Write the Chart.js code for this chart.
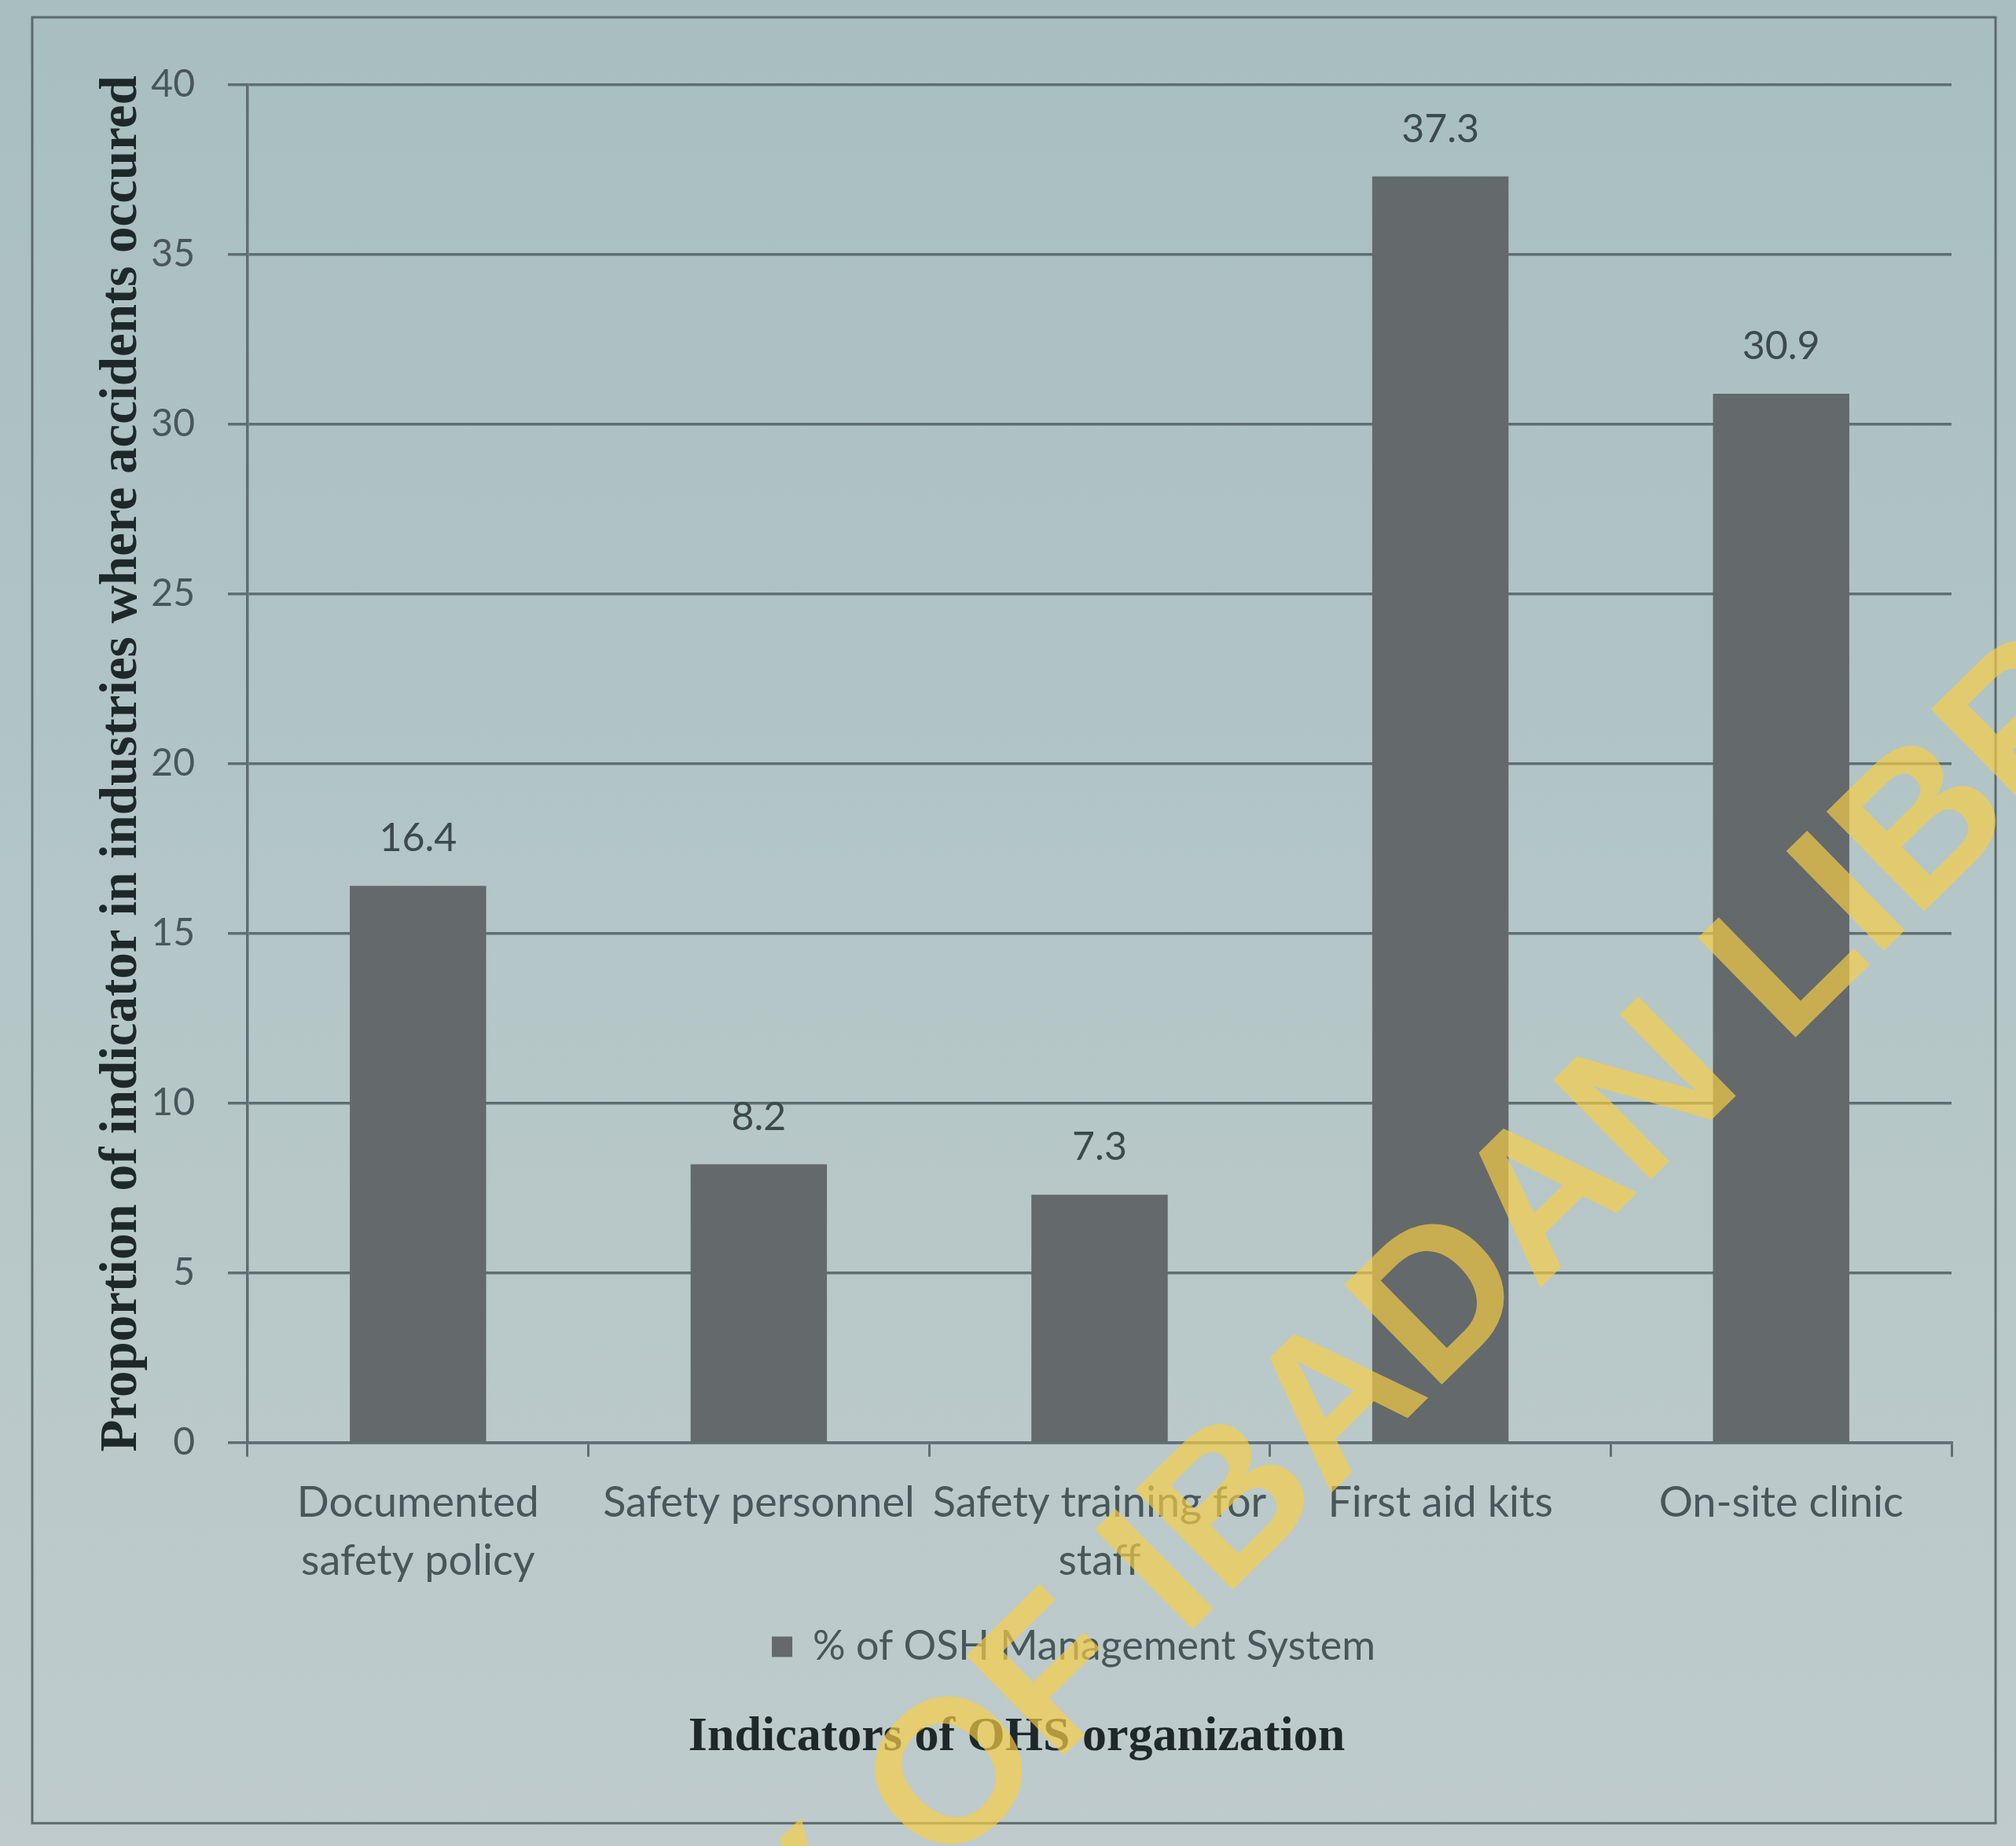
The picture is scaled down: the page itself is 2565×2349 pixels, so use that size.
<!DOCTYPE html>
<html>
<head>
<meta charset="utf-8">
<script src="https://cdn.jsdelivr.net/npm/chart.js@4/dist/chart.umd.min.js"></script>
<style>
  html, body { margin: 0; padding: 0; background: #b3c5c6; }
  #wrap { width: 2565px; height: 2349px; position: relative; }
  canvas { display: block; }
</style>
</head>
<body>
<div id="wrap"><canvas id="chart" width="2565" height="2349"></canvas></div>
<script>
// Indicators of OHS organization in industries where accidents occurred
const categories = [
  ["Documented", "safety policy"],
  ["Safety personnel"],
  ["Safety training for", "staff"],
  ["First aid kits"],
  ["On-site clinic"]
];
const seriesName = "% of OSH Management System";
const oshValues = [16.4, 8.2, 7.3, 37.3, 30.9];
const yTicks = [0, 5, 10, 15, 20, 25, 30, 35, 40];
const yTitle = "Proportion of indicator in industries where accidents occured";
const xTitle = "Indicators of OHS organization";
const watermarkText = "UNIVERSITY OF IBADAN LIBRARY";

const INK = "#485759";
const GRID = "#5f6f71";
const BAR = "#64696b";

// paper-coloured background
const paperPlugin = {
  id: "paper",
  beforeDraw(chart) {
    const { ctx, width, height } = chart;
    const g = ctx.createLinearGradient(0, 0, 0, height);
    g.addColorStop(0, "#a8bebf");
    g.addColorStop(0.5, "#b4c6c7");
    g.addColorStop(1, "#bfcbcc");
    ctx.save();
    ctx.fillStyle = g;
    ctx.fillRect(0, 0, width, height);
    ctx.restore();
  }
};

// nudge the legend and bottom title sideways after layout
const placeBlocks = {
  id: "placeBlocks",
  afterLayout(chart) {
    const lg = chart.legend;
    if (lg) {
      lg.left -= 33; lg.right -= 33;
      if (lg.adjustHitBoxes) lg.adjustHitBoxes();
    }
    const tb = chart.titleBlock;
    if (tb) { tb.left += 22; tb.right += 22; }
  }
};

// value labels above each bar
const valueLabels = {
  id: "valueLabels",
  afterDatasetsDraw(chart) {
    const { ctx } = chart;
    const meta = chart.getDatasetMeta(0);
    ctx.save();
    ctx.font = "50px Lato";
    ctx.fillStyle = "#3d4a4c";
    ctx.textAlign = "center";
    ctx.textBaseline = "middle";
    meta.data.forEach((bar, i) => {
      ctx.fillText(String(chart.data.datasets[0].data[i]), bar.x, bar.y - 60);
    });
    ctx.restore();
  }
};

// outer frame and diagonal library stamp
const framePlugin = {
  id: "frame",
  afterDraw(chart) {
    const { ctx } = chart;
    ctx.save();
    ctx.strokeStyle = "#5c6a6b";
    ctx.lineWidth = 3;
    ctx.strokeRect(41, 22, 2498, 2298);

    const size = 258;
    ctx.font = "bold " + size + "px 'Liberation Sans'";
    const idx = watermarkText.indexOf("OF");
    const pre = ctx.measureText(watermarkText.slice(0, idx)).width;
    const oW = ctx.measureText("O").width;
    ctx.translate(1205, 2250);
    ctx.rotate(Math.atan2(-1209, 1232));
    ctx.globalAlpha = 0.68;
    ctx.fillStyle = "#f7cf45";
    ctx.textBaseline = "alphabetic";
    ctx.textAlign = "left";
    ctx.fillText(watermarkText, -pre - oW / 2, 0.358 * size);
    ctx.restore();
  }
};

new Chart(document.getElementById("chart"), {
  type: "bar",
  data: {
    labels: categories,
    datasets: [{
      label: seriesName,
      data: oshValues,
      backgroundColor: BAR,
      borderWidth: 0,
      barPercentage: 0.4,
      categoryPercentage: 1.0
    }]
  },
  options: {
    responsive: false,
    animation: false,
    devicePixelRatio: 1,
    layout: { padding: { left: 60, right: 82, top: 108, bottom: 61 } },
    plugins: {
      legend: {
        position: "bottom",
        fullSize: false,
        labels: {
          font: { family: "Lato", size: 52 },
          color: INK,
          boxWidth: 26,
          boxHeight: 26,
          padding: 24
        }
      },
      title: {
        display: true,
        position: "bottom",
        text: xTitle,
        font: { family: "'Liberation Serif'", weight: "bold", size: 62 },
        color: "#1f2829",
        padding: { top: 42, bottom: 40 }
      },
      tooltip: { enabled: false }
    },
    scales: {
      x: {
        grid: {
          display: true,
          drawOnChartArea: false,
          drawTicks: true,
          tickLength: 18,
          color: GRID,
          lineWidth: 3
        },
        border: { display: true, color: GRID, width: 3.5 },
        ticks: {
          font: { family: "Lato", size: 54, lineHeight: 1.37 },
          color: INK,
          padding: 22,
          maxRotation: 0,
          autoSkip: false
        }
      },
      y: {
        min: yTicks[0],
        max: yTicks[yTicks.length - 1],
        afterBuildTicks(scale) {
          scale.ticks = yTicks.map(v => ({ value: v }));
        },
        afterFit(scale) { scale.width = 255; },
        grid: {
          color: GRID,
          lineWidth: 3.5,
          tickLength: 25,
          drawTicks: true
        },
        border: { display: true, color: GRID, width: 3.5 },
        ticks: {
          font: { family: "Lato", size: 48 },
          color: INK,
          padding: 42
        },
        title: {
          display: true,
          text: yTitle,
          font: { family: "'Liberation Serif'", weight: "bold", size: 67 },
          color: "#1f2829",
          padding: { top: 55, bottom: 0 }
        }
      }
    }
  },
  plugins: [paperPlugin, placeBlocks, valueLabels, framePlugin]
});
</script>
</body>
</html>
